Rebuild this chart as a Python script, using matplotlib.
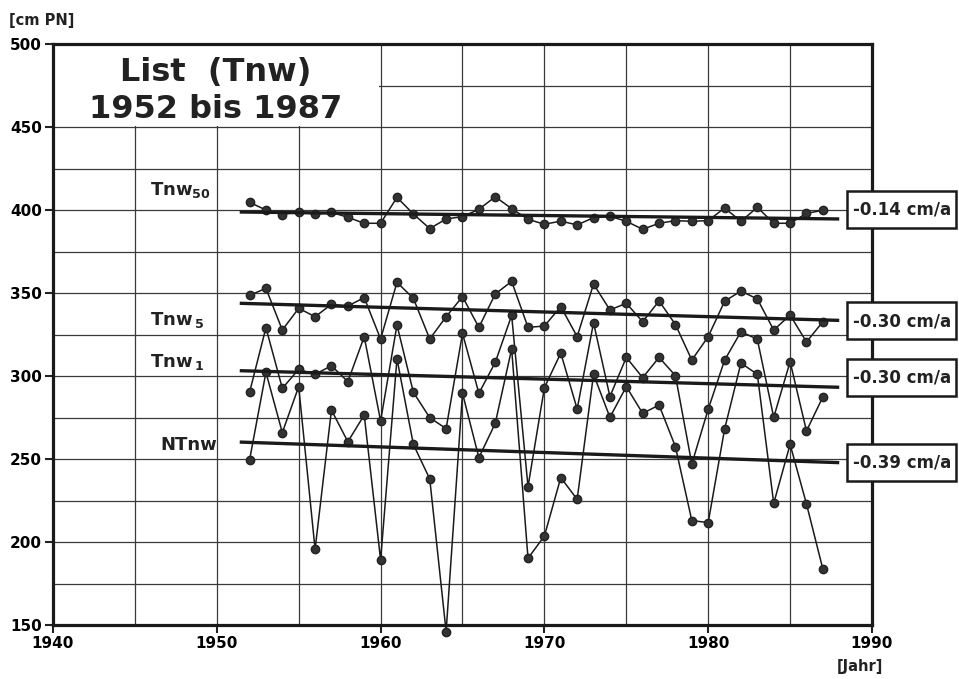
import matplotlib
matplotlib.use("Agg")
import matplotlib.pyplot as plt
from matplotlib.patches import Rectangle
import numpy as np

plt.rcParams["font.family"] = ["DejaVu Sans"]
plt.rcParams["font.weight"] = "bold"
plt.rcParams["mathtext.fontset"] = "dejavusans"

# ---------------------------------------------------------------------------
# Data
# ---------------------------------------------------------------------------

years = np.arange(1952, 1988)

tnw50 = [404.6, 400.0, 397.2, 399.0, 397.4, 398.6, 395.6, 392.0, 392.0, 407.6,
         397.6, 388.8, 394.6, 396.0, 400.4, 408.0, 400.8, 394.4, 391.4, 393.3,
         391.0, 395.4, 396.2, 393.2, 388.4, 392.0, 393.6, 393.2, 393.6, 401.2,
         393.2, 401.6, 392.0, 392.0, 398.0, 399.8]

tnw5 = [348.6, 352.8, 327.7, 340.8, 335.7, 343.2, 342.2, 347.2, 322.3, 356.4,
        346.8, 322.3, 335.7, 347.8, 329.3, 349.4, 357.0, 329.3, 330.1, 341.8,
        323.7, 355.4, 339.8, 343.8, 332.7, 345.2, 331.0, 309.6, 323.7, 345.0,
        351.2, 346.4, 327.7, 336.7, 320.5, 332.7]

tnw1 = [290.2, 329.1, 292.6, 304.0, 301.0, 306.2, 296.6, 323.7, 272.9, 330.7,
        290.2, 274.9, 268.3, 325.7, 289.6, 308.2, 336.5, 233.3, 293.0, 313.8,
        280.1, 332.1, 287.6, 311.2, 299.0, 311.2, 300.2, 247.0, 280.0, 309.5,
        326.7, 322.1, 275.1, 308.6, 266.9, 287.4]

ntnw = [249.4, 302.2, 265.9, 293.6, 195.6, 279.5, 260.4, 276.5, 189.2, 310.4,
        258.8, 238.0, 146.0, 289.6, 250.8, 271.5, 316.3, 190.2, 203.6, 238.8,
        225.7, 301.0, 275.1, 293.6, 277.5, 282.5, 257.4, 212.9, 211.7, 268.0,
        307.8, 301.0, 223.3, 258.8, 222.9, 183.7]

series = [tnw50, tnw5, tnw1, ntnw]

# trend lines, start / end as drawn
trend_years = [1951.4, 1988.0]
trend_start = [398.8, 343.8, 303.2, 260.2]
trend_end = [394.6, 333.5, 293.2, 247.8]
trend_labels = ["-0.14 cm/a", "-0.30 cm/a", "-0.30 cm/a", "-0.39 cm/a"]

series_labels = [r"Tnw$_{\mathbf{50}}$", r"Tnw$_{\,\mathbf{5}}$",
                 r"Tnw$_{\,\mathbf{1}}$", "NTnw"]

# ---------------------------------------------------------------------------
# Figure
# ---------------------------------------------------------------------------

W, H = 959, 679
fig = plt.figure(figsize=(W / 100, H / 100), dpi=100)
ax = fig.add_axes([53 / W, 1 - 625 / H, (872 - 53) / W, (625 - 44) / H])

ax.set_xlim(1940, 1990)
ax.set_ylim(150, 500)
ax.set_xticks(range(1940, 1991, 10))
ax.set_yticks(range(150, 501, 50))
ax.set_xticks(range(1945, 1990, 10), minor=True)
ax.set_yticks(range(175, 500, 50), minor=True)
ax.grid(True, which="both", color="#3a3a3a", linewidth=0.9, zorder=0)
ax.set_axisbelow(True)
ax.tick_params(which="major", length=6, width=1.5, labelsize=11, pad=2,
               direction="out", color="#222")
ax.tick_params(which="minor", length=0)
for spine in ax.spines.values():
    spine.set_linewidth(2.3)
    spine.set_color("#1a1a1a")

# blank area behind the title
ax.add_patch(Rectangle((1940.1, 450.6), 19.8, 49.0, facecolor="white",
                       edgecolor="none", zorder=1))
ax.text(1949.95, 477.7, "List  (Tnw)", fontsize=23, ha="center",
        va="baseline", color="#222", zorder=2)
ax.text(1949.9, 455.4, "1952 bis 1987", fontsize=23, ha="center",
        va="baseline", color="#222", zorder=2)

for values in series:
    ax.plot(years, values, color="#1a1a1a", linewidth=1.1, marker="o",
            markersize=6, markerfacecolor="#333", markeredgecolor="#222",
            clip_on=False, zorder=4)

for start, end in zip(trend_start, trend_end):
    ax.plot(trend_years, [start, end], color="#1a1a1a", linewidth=2.4,
            solid_capstyle="butt", zorder=5)

# slope boxes on the right
box_y = [400.3, 333.1, 298.8, 247.6]
for yc, label in zip(box_y, trend_labels):
    ax.add_patch(Rectangle((1988.5, yc - 11.1), 6.65, 22.3, facecolor="white",
                           edgecolor="#1a1a1a", linewidth=1.8, clip_on=False,
                           zorder=6))
    ax.text(1991.82, yc, label, fontsize=12, ha="center", va="center",
            color="#222", clip_on=False, zorder=7)

label_pos = [(1945.92, 409.0), (1945.92, 330.7), (1945.92, 305.4),
             (1946.53, 255.4)]
for (lx, ly), label in zip(label_pos, series_labels):
    ax.text(lx, ly, label, fontsize=13, ha="left", va="baseline",
            color="#222", zorder=3)

fig.text(9 / W, 1 - 21 / H, "[cm PN]", fontsize=10.5, ha="left",
         va="center", color="#222")
fig.text(860 / W, 1 - 666 / H, "[Jahr]", fontsize=10.5, ha="center",
         va="center", color="#222")

fig.savefig("out.png", dpi=100)
